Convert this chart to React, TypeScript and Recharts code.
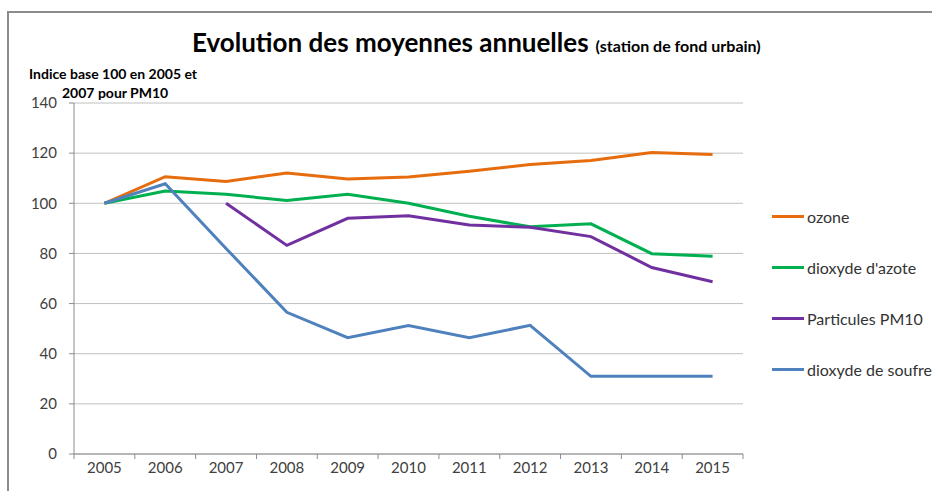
import { LineChart, Line, XAxis, YAxis, CartesianGrid, Legend } from "recharts";

const years = ["2005", "2006", "2007", "2008", "2009", "2010", "2011", "2012", "2013", "2014", "2015"];
const ozone = [100, 110.6, 108.7, 112.1, 109.7, 110.5, 112.8, 115.5, 117.1, 120.3, 119.5];
const azote = [100, 104.9, 103.6, 101.1, 103.6, 100, 94.8, 90.6, 91.8, 79.9, 78.9];
const pm10 = [null, null, 100, 83.2, 94, 95, 91.3, 90.4, 86.7, 74.4, 68.7];
const soufre = [100, 107.8, 82, 56.5, 46.4, 51.2, 46.4, 51.3, 31, 31, 31];
const yTicks = [0, 20, 40, 60, 80, 100, 120, 140];

const series = [
  { key: "ozone", name: "ozone", color: "#E66C0E", values: ozone },
  { key: "azote", name: "dioxyde d'azote", color: "#00B050", values: azote },
  { key: "pm10", name: "Particules PM10", color: "#7030A0", values: pm10 },
  { key: "soufre", name: "dioxyde de soufre", color: "#4F81BD", values: soufre },
];

const data = years.map((year, i) => {
  const row: Record<string, string | number | null> = { year };
  series.forEach((s) => (row[s.key] = s.values[i]));
  return row;
});

// plot box inside the 932x491 chart
const PLOT_LEFT = 74;
const PLOT_RIGHT = 743;
const HALF_BAND = (PLOT_RIGHT - PLOT_LEFT) / years.length / 2;
const FONT = "Lato, 'Open Sans', sans-serif";

function YearTick(props: any) {
  const { x, y, payload, index } = props;
  const axisY = y - 8;
  return (
    <g>
      <line x1={x - HALF_BAND} x2={x - HALF_BAND} y1={axisY} y2={axisY + 5} stroke="#8c8c8c" />
      {index === years.length - 1 && (
        <line x1={x + HALF_BAND} x2={x + HALF_BAND} y1={axisY} y2={axisY + 5} stroke="#8c8c8c" />
      )}
      <text x={x} y={y} dy="0.72em" textAnchor="middle" fontSize={15} fill="#404040" fontFamily={FONT}>
        {payload.value}
      </text>
    </g>
  );
}

// keep the legend in series order (recharts sorts it by name otherwise)
function LegendList({ payload }: any) {
  const items = series.map((s) => (payload || []).find((p: any) => p.dataKey === s.key) || { value: s.name, color: s.color });
  return (
    <div style={{ fontFamily: FONT, fontSize: 16, color: "#333" }}>
      {items.map((p: any) => (
        <div key={p.value} style={{ display: "flex", alignItems: "center", height: 51, whiteSpace: "nowrap" }}>
          <span style={{ display: "inline-block", width: 32, height: 3, background: p.color, marginRight: 3 }} />
          <span>{p.value}</span>
        </div>
      ))}
    </div>
  );
}

export default function App() {
  return (
    <div
      style={{
        position: "absolute",
        left: 0,
        top: 0,
        width: 932,
        height: 491,
        overflow: "hidden",
        background: "#fff",
        fontFamily: FONT,
      }}
    >
      <div
        style={{
          position: "absolute",
          left: 7,
          top: 11,
          width: 1000,
          height: 600,
          borderTop: "2px solid #8c8c8c",
          borderLeft: "2px solid #8c8c8c",
        }}
      />
      <div style={{ position: "absolute", left: 192, top: 26, whiteSpace: "nowrap", color: "#000" }}>
        <span style={{ fontSize: 26, fontWeight: 700 }}>Evolution des moyennes annuelles</span>
        <span style={{ fontSize: 16, fontWeight: 700, marginLeft: 7 }}>(station de fond urbain)</span>
      </div>
      <div style={{ position: "absolute", left: 29, top: 65, fontSize: 14, fontWeight: 700, whiteSpace: "nowrap" }}>
        Indice base 100 en 2005 et
      </div>
      <div style={{ position: "absolute", left: 62, top: 84, fontSize: 14, fontWeight: 700, whiteSpace: "nowrap" }}>
        2007 pour PM10
      </div>
      <div style={{ position: "absolute", left: 0, top: 0 }}>
        <LineChart width={932} height={491} data={data} margin={{ top: 103, right: 189, left: 0, bottom: 7 }}>
          <CartesianGrid vertical={false} stroke="#c0c0c0" />
          <XAxis
            dataKey="year"
            height={30}
            padding={{ left: HALF_BAND, right: HALF_BAND }}
            axisLine={{ stroke: "#8c8c8c" }}
            tickLine={false}
            tickSize={6}
            tickMargin={2}
            interval={0}
            tick={<YearTick />}
          />
          <YAxis
            width={74}
            domain={[0, 140]}
            ticks={yTicks}
            interval={0}
            axisLine={{ stroke: "#8c8c8c" }}
            tickLine={{ stroke: "#8c8c8c" }}
            tickSize={5}
            tickMargin={12}
            tick={{ fontSize: 15, fill: "#404040", fontFamily: FONT }}
          />
          <Legend
            layout="vertical"
            align="center"
            verticalAlign="middle"
            content={<LegendList />}
            wrapperStyle={{ left: 772, top: 191, width: 170 }}
          />
          {series.map((s) => (
            <Line
              key={s.key}
              type="linear"
              dataKey={s.key}
              name={s.name}
              stroke={s.color}
              strokeWidth={3}
              dot={false}
              activeDot={false}
              isAnimationActive={false}
            />
          ))}
        </LineChart>
      </div>
    </div>
  );
}
